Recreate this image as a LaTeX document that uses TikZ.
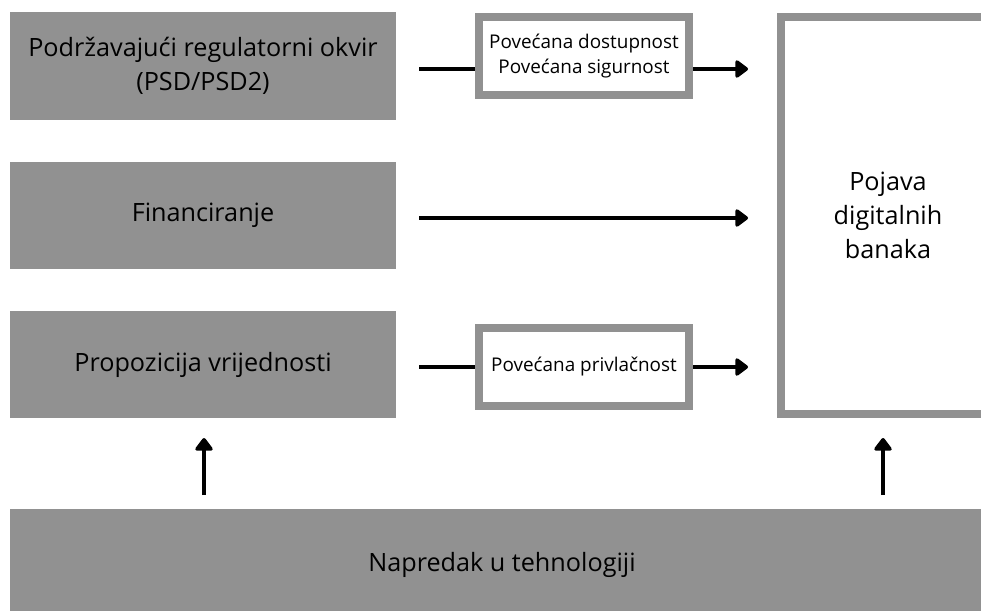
\documentclass[tikz,border=0pt]{standalone}
\usepackage{fontspec}
\setmainfont{Open Sans}
\usepackage{tikz}
\usetikzlibrary{calc,arrows.meta}
\definecolor{boxgray}{HTML}{919191}

\begin{document}
\begin{tikzpicture}[x=1pt,y=-1pt,
    bigfont/.style={font=\fontsize{25.2}{34}\selectfont},
    smallfont/.style={font=\fontsize{18.9}{25}\selectfont},
    graybox/.style={fill=boxgray, inner sep=0pt, align=center, bigfont},
    framebox/.style={draw=boxgray, line width=8pt, fill=white, inner sep=0pt, align=center},
    link/.style={line width=4.5pt},
    arrow/.style={line width=4.5pt, -{Triangle[length=14pt,width=20pt,round]}}]
      % fix the page size
      \clip (0,0) rectangle (981,610);

      % Draw the left column of factors
      \node[graybox, minimum width=386pt, minimum height=108pt] (reg) at (203,66)
        {Podržavajući regulatorni okvir\\(PSD/PSD2)};
      \node[graybox, minimum width=386pt, minimum height=107pt] (fin) at (203,215.5)
        {Financiranje};
      \node[graybox, minimum width=386pt, minimum height=107pt] (prop) at (203,364.5)
        {Propozicija vrijednosti};

      % Draw the technology base
      \node[graybox, minimum width=984pt, minimum height=111pt] (tech) at (502,564.5)
        {Napredak u tehnologiji};

      % Draw the effect boxes
      \node[framebox, smallfont, minimum width=210pt, minimum height=78pt] (acc) at (584,56)
        {Povećana dostupnost\\Povećana sigurnost};
      \node[framebox, smallfont, minimum width=210pt, minimum height=78pt] (att) at (584,367)
        {Povećana privlačnost};

      % Draw the outcome
      \node[framebox, bigfont, minimum width=214pt, minimum height=397pt] (digi) at (888,215.5)
        {Pojava\\digitalnih\\banaka};

      % Optional: row start and end points
      \coordinate (s1) at (419,69);
      \coordinate (e1) at (748,69);
      \coordinate (s2) at (419,218);
      \coordinate (e2) at (748,218);
      \coordinate (s3) at (419,367);
      \coordinate (e3) at (748,367);
      \coordinate (u1) at (204,495);
      \coordinate (u2) at (883,495);

      % Draw the connectors
      \draw[link] (s1) -- (s1 -| acc.west);
      \draw[arrow] (acc.east |- s1) -- (e1);
      \draw[arrow] (s2) -- (e2);
      \draw[link] (s3) -- (att.west);
      \draw[arrow] (att.east) -- (e3);
      \draw[arrow] (u1) -- (u1 |- 438,438);
      \draw[arrow] (u2) -- (u2 |- 438,438);
\end{tikzpicture}
\end{document}
